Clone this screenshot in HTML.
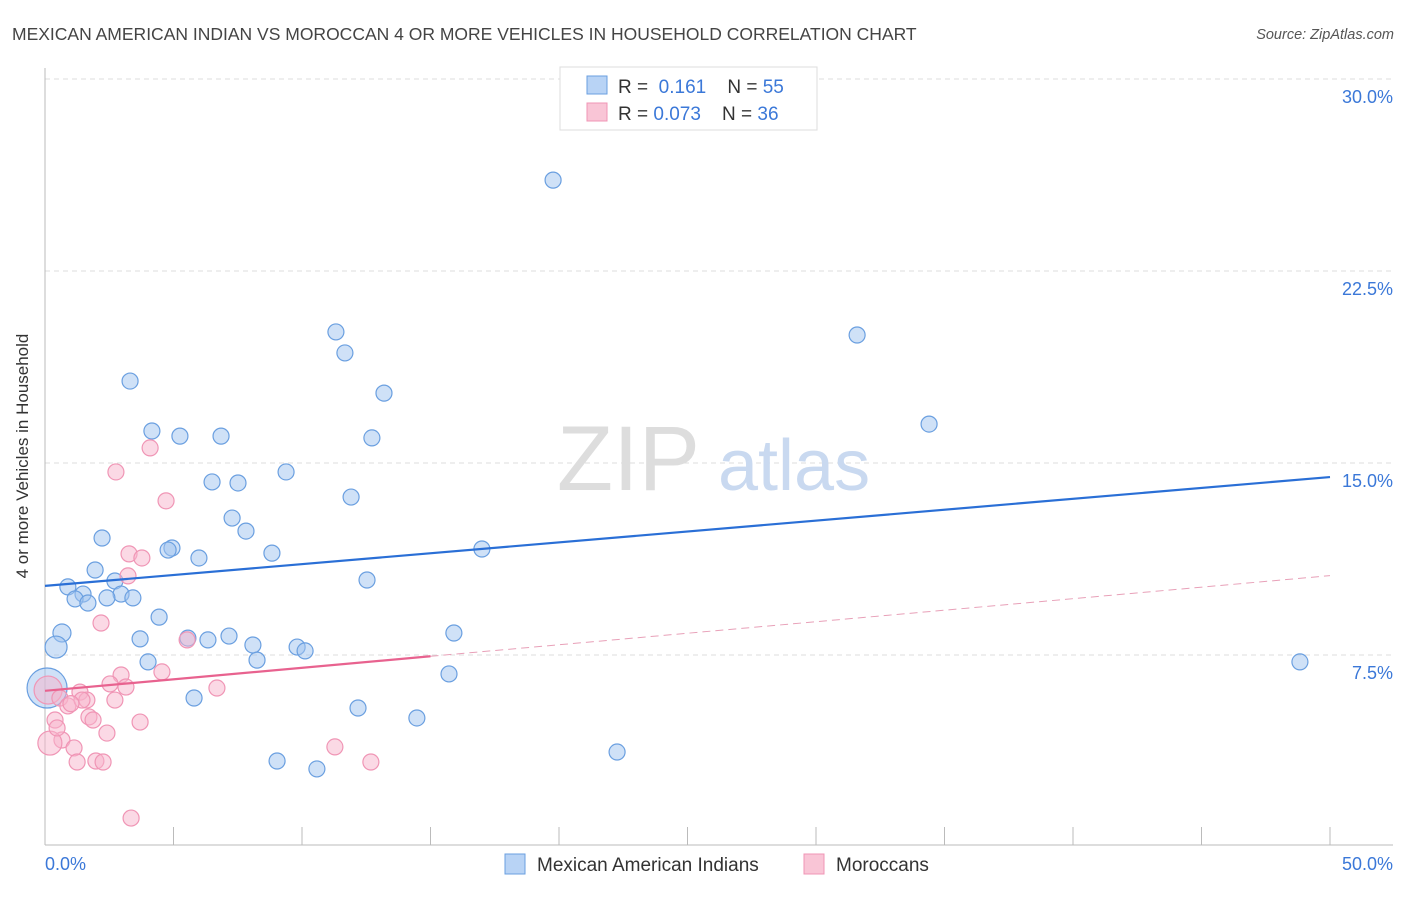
<!DOCTYPE html>
<html><head><meta charset="utf-8"><style>
body{margin:0;background:#fff;font-family:"Liberation Sans",sans-serif}
svg text{font-family:"Liberation Sans",sans-serif}
</style></head><body>
<svg id="c" width="1406" height="892">
<text x="12" y="40" font-size="17.5" fill="#444">MEXICAN AMERICAN INDIAN VS MOROCCAN 4 OR MORE VEHICLES IN HOUSEHOLD CORRELATION CHART</text>
<text x="1394" y="39" font-size="14.5" fill="#555" font-style="italic" text-anchor="end">Source: ZipAtlas.com</text>
<g id="grid"></g>
<text x="700" y="490" font-size="92" fill="#ddd" text-anchor="end" font-family="Liberation Serif">ZIP</text>
<text x="718" y="490" font-size="72" fill="#c9d9f0">atlas</text>
<line x1="45" y1="68" x2="45" y2="845" stroke="#bbb"/>
<line x1="45" y1="845" x2="1393" y2="845" stroke="#bbb"/>
<text x="28" y="456" font-size="17" fill="#333" text-anchor="middle" transform="rotate(-90 28 456)">4 or more Vehicles in Household</text>
<text x="45" y="870" font-size="18" fill="#3b78d8">0.0%</text>
<text x="1393" y="870" font-size="18" fill="#3b78d8" text-anchor="end">50.0%</text>
<g id="pts"></g>
<g>
<rect x="560" y="67" width="257" height="63" fill="#fff" stroke="#ddd"/>
<rect x="587" y="76" width="20" height="18" fill="#b8d3f5" stroke="#6a9fe0"/>
<rect x="587" y="103" width="20" height="18" fill="#f9c5d6" stroke="#f095b5"/>
<text x="618" y="93" font-size="19" fill="#333">R = <tspan fill="#3b78d8">&#160;0.161</tspan>&#160;&#160;&#160; N = <tspan fill="#3b78d8">55</tspan></text>
<text x="618" y="120" font-size="19" fill="#333">R = <tspan fill="#3b78d8">0.073</tspan>&#160;&#160;&#160; N = <tspan fill="#3b78d8">36</tspan></text>
</g>
<g>
<rect x="505" y="854" width="20" height="20" fill="#b8d3f5" stroke="#6a9fe0"/>
<text x="537" y="871" font-size="19" fill="#333">Mexican American Indians</text>
<rect x="804" y="854" width="20" height="20" fill="#f9c5d6" stroke="#f095b5"/>
<text x="836" y="871" font-size="19" fill="#333">Moroccans</text>
</g>
</svg>
<script>
const yTicks=[7.5,15,22.5,30];
const xTickVals=[0,5,10,15,20,25,30,35,40,45,50];
const blueX=[19.77,11.32,31.6,11.67,3.31,13.19,34.4,4.16,5.25,6.85,12.72,9.38,6.5,7.51,11.91,7.28,7.82,2.22,4.94,4.79,17.0,8.83,5.99,1.95,12.53,2.72,0.89,1.48,2.96,1.17,2.41,3.42,1.67,4.44,0.66,15.91,3.7,5.56,7.16,6.34,8.09,9.81,10.12,0.43,8.25,4.01,48.83,15.72,0.08,5.8,12.18,14.47,22.26,9.03,10.58];
const blueY=[26.05,20.12,20.0,19.3,18.2,17.73,16.52,16.25,16.05,16.05,15.98,14.65,14.26,14.22,13.67,12.85,12.34,12.07,11.68,11.6,11.64,11.48,11.29,10.82,10.43,10.39,10.16,9.88,9.88,9.69,9.73,9.73,9.53,8.98,8.36,8.36,8.13,8.16,8.24,8.09,7.89,7.81,7.66,7.81,7.3,7.23,7.23,6.76,6.21,5.82,5.43,5.04,3.71,3.36,3.05];
const blueR=[8,8,8,8,8,8,8,8,8,8,8,8,8,8,8,8,8,8,8,8,8,8,8,8,8,8,8,8,8,8,8,8,8,8,9,8,8,8,8,8,8,8,8,11,8,8,8,8,20,8,8,8,8,8,8];
const pinkX=[4.09,2.76,4.71,3.27,3.77,3.23,2.18,5.53,4.55,2.96,2.53,3.15,6.69,1.36,0.12,1.63,2.72,0.58,0.89,1.71,0.39,3.7,2.41,0.66,0.19,1.13,1.25,1.98,2.26,11.28,12.68,3.35,0.47,1.87,1.44,1.01];
const pinkY=[15.59,14.65,13.52,11.45,11.29,10.59,8.75,8.09,6.84,6.72,6.37,6.25,6.21,6.05,6.13,5.74,5.74,5.82,5.51,5.08,4.96,4.88,4.45,4.18,4.06,3.87,3.32,3.36,3.32,3.91,3.32,1.13,4.65,4.96,5.74,5.6];
const pinkR=[8,8,8,8,8,8,8,8,8,8,8,8,8,8,14,8,8,8,8,8,8,8,8,8,12,8,8,8,8,8,8,8,8,8,8,8];
const blueTrend=[10.2,14.45];
const pinkTrend=[6.1,10.6];
const pinkSolidEnd=15;
const NS='http://www.w3.org/2000/svg';
const X=v=>45+v*25.7, Y=v=>847-v*25.6;
function mk(t,a,p){const e=document.createElementNS(NS,t);for(const k in a)e.setAttribute(k,a[k]);p.appendChild(e);return e;}
const g=document.getElementById('grid'),P=document.getElementById('pts');
yTicks.forEach(t=>{
 const l=mk('line',{x1:45,x2:1393,y1:Y(t),y2:Y(t),stroke:'#ddd','stroke-dasharray':'5,4'},g);
 
 
 const tx=mk('text',{x:1393,y:Y(t)+24,'font-size':18,fill:'#3b78d8','text-anchor':'end'},g);
 tx.textContent=t.toFixed(1)+'%';
 
 
});
xTickVals.forEach(t=>{
 const l=mk('line',{x1:X(t),x2:X(t),y1:827,y2:845,stroke:'#bbb'},g);
 
 
});
blueX.forEach((v,i)=>{
 const c=mk('circle',{cx:X(v),cy:Y(blueY[i]),r:blueR[i],fill:'rgba(160,196,240,0.5)',stroke:'#6a9fe0','stroke-width':1.2},P);
 
 
});
pinkX.forEach((v,i)=>{
 const c=mk('circle',{cx:X(v),cy:Y(pinkY[i]),r:pinkR[i],fill:'rgba(248,180,204,0.5)',stroke:'#f095b5','stroke-width':1.2},P);
 
 
});
const bt=mk('line',{x1:X(0),y1:Y(blueTrend[0]),x2:X(50),y2:Y(blueTrend[1]),stroke:'#2a6fd6','stroke-width':2.2},P);


const pv=x=>pinkTrend[0]+(pinkTrend[1]-pinkTrend[0])*x/50;
const ps=mk('line',{x1:X(0),y1:Y(pv(0)),x2:X(pinkSolidEnd),y2:Y(pv(pinkSolidEnd)),stroke:'#e8628f','stroke-width':2.2},P);


const pd=mk('line',{x1:X(pinkSolidEnd),y1:Y(pv(pinkSolidEnd)),x2:X(50),y2:Y(pv(50)),stroke:'#e8a0b8','stroke-width':1,'stroke-dasharray':'8,5'},P);


</script>
</body></html>
